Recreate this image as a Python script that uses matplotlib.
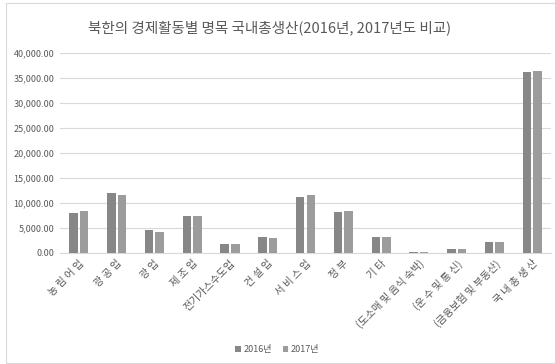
import matplotlib
matplotlib.use("Agg")
import matplotlib.pyplot as plt
import numpy as np
from matplotlib.patches import Rectangle

plt.rcParams['font.family'] = ['Noto Sans CJK KR', 'DejaVu Sans']

# categories and values
categories = ["농 림 어 업", "광 공 업", "광 업", "제 조 업", "전기가스수도업",
              "건 설 업", "서 비 스 업", "정 부", "기 타",
              "(도소매 및 음식 숙박)", "(운 수 및 통 신)", "(금융보험 및 부동산)",
              "국 내 총 생 산"]
values_2016 = [7880, 11880, 4480, 7400, 1740, 3200, 11200, 8080, 3080, 150, 800, 2140, 36080]
values_2017 = [8340, 11540, 4140, 7250, 1740, 3000, 11540, 8340, 3080, 160, 800, 2140, 36400]
series_names = ["2016년", "2017년"]
yticks = [0, 5000, 10000, 15000, 20000, 25000, 30000, 35000, 40000]

c2016 = "#878787"
c2017 = "#9c9c9c"
txt = "#595959"

fig = plt.figure(figsize=(5.55, 3.64), dpi=100)
ax = fig.add_axes([0.108, 0.306, 0.885, 0.549])

x = np.arange(len(categories))
w = 0.225
ax.bar(x - 0.14, values_2016, w, color=c2016, label=series_names[0], zorder=3)
ax.bar(x + 0.14, values_2017, w, color=c2017, label=series_names[1], zorder=3)

ax.set_xlim(-0.5, len(categories) - 0.5)
ax.set_ylim(0, 40000)
ax.set_yticks(yticks)
ax.set_yticklabels([f"{v:,.2f}" for v in yticks], fontsize=6.5, color=txt)
ax.set_xticks(x)
ax.set_xticklabels(categories, rotation=45, ha="right", rotation_mode="anchor",
                   fontsize=7.5, color=txt)
ax.tick_params(axis="both", length=0, pad=4)
ax.grid(axis="y", color="#d9d9d9", linewidth=0.8, zorder=0)
for s in ["top", "right", "left"]:
    ax.spines[s].set_visible(False)
ax.spines["bottom"].set_color("#d9d9d9")

fig.suptitle("북한의 경제활동별 명목 국내총생산(2016년, 2017년도 비교)",
             x=0.485, y=0.945, fontsize=10.5, color=txt)

fig.legend(loc="center", bbox_to_anchor=(0.5, 0.04), ncol=2, frameon=False,
           fontsize=6.5, handlelength=0.6, handleheight=0.6, columnspacing=1.2,
           handletextpad=0.3, labelcolor=txt)

# chart border
fig.patches.append(Rectangle((6 / 555, 0.003), 1.2, 0.99, transform=fig.transFigure,
                             fill=False, edgecolor="#d9d9d9", linewidth=0.8))

fig.savefig("out.png", dpi=100)
